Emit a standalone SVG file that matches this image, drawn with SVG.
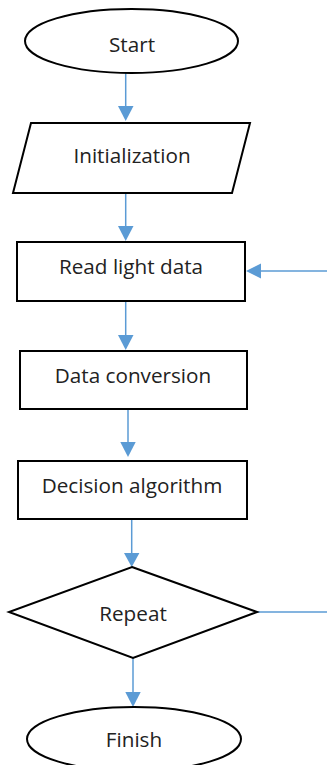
<svg xmlns="http://www.w3.org/2000/svg" width="327" height="765" viewBox="0 0 327 765">
  <defs>
    <style>
      .shape { fill: #ffffff; stroke: #000000; stroke-width: 2; }
      .label { font-family: "Open Sans", "Noto Sans", "Liberation Sans", sans-serif; font-size: 20.7px; fill: #222222; text-anchor: middle; }
      .flow { fill: none; stroke: #5B9BD5; stroke-width: 1.5; }
      .head { fill: #5B9BD5; stroke: none; }
    </style>
  </defs>
  <rect width="327" height="765" fill="#ffffff"/>

  <!-- connectors -->
  <g id="connectors">
    <line class="flow" x1="125.7" y1="73" x2="125.7" y2="108"/>
    <polygon class="head" points="118,106 133.5,106 125.7,121"/>

    <line class="flow" x1="125.7" y1="193" x2="125.7" y2="228"/>
    <polygon class="head" points="118,226 133.5,226 125.7,241"/>

    <line class="flow" x1="125.7" y1="301" x2="125.7" y2="337"/>
    <polygon class="head" points="118,335 133.5,335 125.7,350"/>

    <line class="flow" x1="128" y1="409" x2="128" y2="444"/>
    <polygon class="head" points="120.3,442 135.7,442 128,457"/>

    <line class="flow" x1="131.7" y1="519" x2="131.7" y2="555"/>
    <polygon class="head" points="124,553 139.4,553 131.7,567"/>

    <line class="flow" x1="133" y1="658" x2="133" y2="694"/>
    <polygon class="head" points="125.3,692 140.7,692 133,707"/>

    <!-- loop back from the decision -->
    <line class="flow" x1="257" y1="612" x2="327" y2="612"/>
    <line class="flow" x1="327" y1="271" x2="260" y2="271"/>
    <polygon class="head" points="261,263.5 261,278.5 246,271"/>
  </g>

  <g id="start">
    <ellipse class="shape" cx="131.5" cy="41" rx="106.5" ry="32"/>
    <text class="label" x="132" y="52">Start</text>
  </g>

  <g id="initialization">
    <polygon class="shape" points="31,123 250,123 232,193 13,193"/>
    <text class="label" x="132" y="163">Initialization</text>
  </g>

  <g id="read-light-data">
    <rect class="shape" x="17" y="242" width="228" height="59"/>
    <text class="label" x="131" y="274">Read light data</text>
  </g>

  <g id="data-conversion">
    <rect class="shape" x="20" y="351" width="227" height="58"/>
    <text class="label" x="133" y="383">Data conversion</text>
  </g>

  <g id="decision-algorithm">
    <rect class="shape" x="18" y="461" width="229" height="58"/>
    <text class="label" x="132" y="493">Decision algorithm</text>
  </g>

  <g id="repeat">
    <polygon class="shape" points="132,567 257,612 133,658 9,612"/>
    <text class="label" x="133" y="621">Repeat</text>
  </g>

  <g id="finish">
    <ellipse class="shape" cx="134" cy="739" rx="107" ry="32"/>
    <text class="label" x="134" y="747">Finish</text>
  </g>
</svg>
